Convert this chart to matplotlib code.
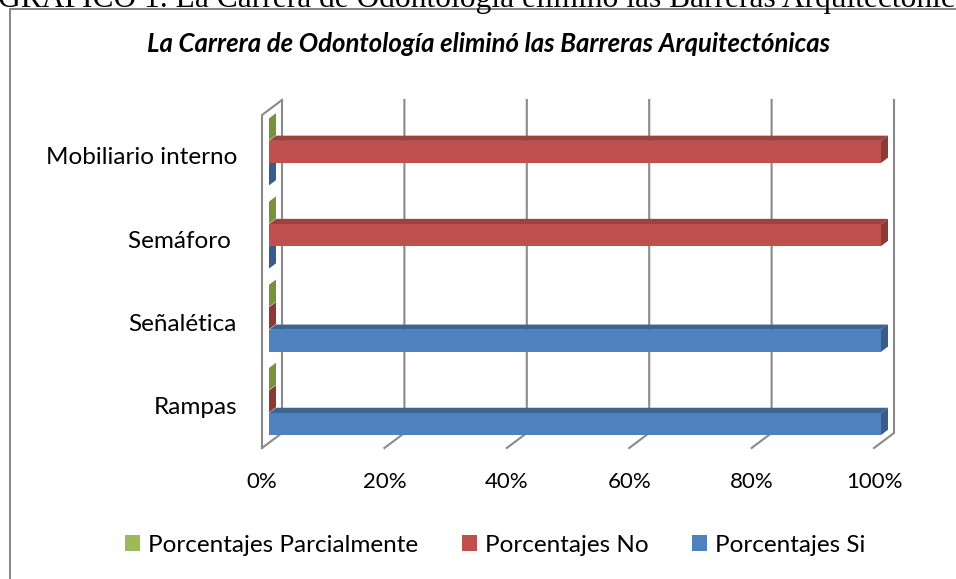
import matplotlib.pyplot as plt
from matplotlib.patches import Polygon, Patch, Rectangle

# data
categories = ['Rampas', 'Señalética', 'Semáforo ', 'Mobiliario interno']
porc_si = [100, 100, 0, 0]
porc_no = [0, 0, 100, 100]
porc_parcial = [0, 0, 0, 0]
series_names = ['Porcentajes Si', 'Porcentajes No', 'Porcentajes Parcialmente']
x_ticks = [0, 20, 40, 60, 80, 100]

# colours: front, top, side
colors = {
    'Porcentajes Si': ('#4F81BD', '#3E6592', '#385D8A'),
    'Porcentajes No': ('#C0504D', '#9E413F', '#8B3A38'),
    'Porcentajes Parcialmente': ('#9BBB59', '#7E9C45', '#76923C'),
}

W, H = 956, 579
X0, PX_PCT = 269.0, 6.12      # bar front plane: 0% position and px per %
Y0, PX_CAT = 401.5, 83.2      # first category centre and px per category


def fx(px):
    return px / W


def fy(py):
    return 1 - py / H


def dx(px):
    return px / PX_PCT


def dy(px):
    return px / PX_CAT


fig = plt.figure(figsize=(W / 100, H / 100), dpi=100)
plt.rcParams['font.family'] = ['Lato', 'DejaVu Sans']

# outer chart border and cut-off caption above it
fig.patches.append(Rectangle((fx(10), -0.2), 1.2, fy(9) + 0.2, transform=fig.transFigure,
                             fill=False, edgecolor='#868686', linewidth=1.4))
fig.text(fx(-2), fy(7), 'GRAFICO 1. La Carrera de Odontología eliminó las Barreras Arquitectónicas',
         family=['Liberation Serif', 'DejaVu Serif'], fontsize=22.7, va='baseline', ha='left')

left_px, right_px, top_px, bot_px = 240, 920, 60, 470
ax = fig.add_axes([fx(left_px), fy(bot_px), (right_px - left_px) / W, (bot_px - top_px) / H])
ax.set_xlim((left_px - X0) / PX_PCT, (right_px - X0) / PX_PCT)
ax.set_ylim((Y0 - bot_px) / PX_CAT, (Y0 - top_px) / PX_CAT)
ax.axis('off')

# 3d geometry (px offsets from the bar front plane)
front_off = (-7, 5.25)     # front edge of floor
back_off = (13, -9.75)     # back wall
bar_depth = (7, 5.25)
floor_y = dy(Y0 - 442.75)  # floor level in bar front plane
wall_top = dy(Y0 - 109.75)
grid_col = '#8A8A8A'

# walls and gridlines
for t in x_ticks:
    bx = t + dx(back_off[0])
    fxx = t + dx(front_off[0])
    y_back_bot = floor_y + dy(-back_off[1])
    y_back_top = wall_top + dy(-back_off[1])
    y_front_bot = floor_y + dy(-front_off[1])
    ax.plot([bx, bx, fxx], [y_back_top, y_back_bot, y_front_bot], color=grid_col, lw=1.5, zorder=1,
            solid_joinstyle='miter')
    if t == 0:
        y_front_top = wall_top + dy(-front_off[1])
        ax.plot([fxx, fxx, bx], [y_front_bot, y_front_top, y_back_top], color=grid_col, lw=1.5, zorder=1)

# bars
h = dy(22)
pitch = dy(22.5)
ddx, ddy = dx(bar_depth[0]), dy(bar_depth[1])
series_vals = [porc_si, porc_no, porc_parcial]
for i, cat in enumerate(categories):
    for k, (name, vals) in enumerate(zip(series_names, series_vals)):
        v = vals[i]
        yc = i + (k - 1) * pitch
        front, top, side = colors[name]
        z = 2 + i * 3 + k
        yt, yb = yc + h / 2, yc - h / 2
        ax.add_patch(Polygon([(0, yt), (v, yt), (v + ddx, yt + ddy), (ddx, yt + ddy)],
                             closed=True, facecolor=top, edgecolor='none', zorder=z))
        ax.add_patch(Polygon([(v, yb), (v, yt), (v + ddx, yt + ddy), (v + ddx, yb + ddy)],
                             closed=True, facecolor=side, edgecolor='none', zorder=z))
        ax.barh(yc, v, height=h, left=0, color=front, edgecolor='none', zorder=z)

# tick labels
for t in x_ticks:
    ax.text(t + dx(front_off[0]), dy(Y0 - 482), f'{t}%', ha='center', va='center', fontsize=16)
for i, cat in enumerate(categories):
    ax.text(dx(237 - X0), i - dy(6), cat, ha='right', va='center', fontsize=17.5)

fig.text(fx(489), fy(44), 'La Carrera de Odontología eliminó las Barreras Arquitectónicas',
         ha='center', va='center', fontsize=18.5, weight='bold', style='italic')

handles = [Patch(facecolor=colors[n][0], edgecolor='none') for n in series_names[::-1]]
fig.legend(handles, series_names[::-1], loc='center', bbox_to_anchor=(fx(495), fy(545)), ncol=3,
           frameon=False, fontsize=17.5, handlelength=0.62, handleheight=0.62, handletextpad=0.33,
           columnspacing=1.8)

fig.savefig('out.png', dpi=100)
